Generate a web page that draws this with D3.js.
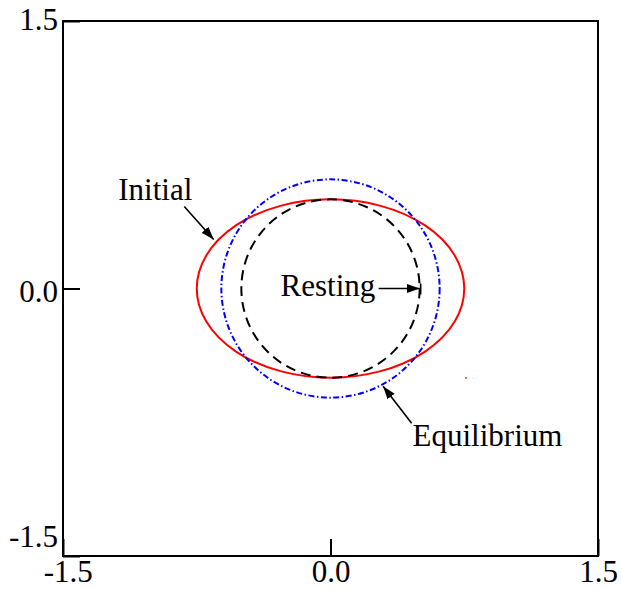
<!DOCTYPE html>
<head>
    <meta charset="utf-8">
    <script src="https://d3js.org/d3.v7.min.js"></script>
</head>

<body style="margin: 0; background: #fff;">
    <svg width="622" height="589"></svg>

    <script>
        // axis ticks (same on both axes)
        const xTicks = [-1.5, 0, 1.5]
        const yTicks = [-1.5, 0, 1.5]

        // shapes: semi-axes in data units
        const shapeNames = ["Initial", "Equilibrium", "Resting"]
        const semiX = [0.75, 0.612, 0.5]
        const semiY = [0.5, 0.612, 0.5]

        // small stray red mark seen in the figure
        const strayPts = [[0.76, -0.502]]

        // annotations: label, label anchor (data units), arrow from -> to
        const annLabels = ["Initial", "Resting", "Equilibrium"]
        const annText = [[-1.19, 0.495], [-0.28, -0.04], [0.46, -0.885]]
        const annFrom = [[-0.82, 0.46], [0.27, 0.0], [0.455, -0.755]]
        const annTo = [[-0.655, 0.275], [0.5, 0.0], [0.295, -0.548]]

        const FONT = "Liberation Serif"
        const FSIZE = 31

        const svg = d3.select("svg")
        const x = d3.scaleLinear().domain([-1.5, 1.5]).range([63, 598])
        const y = d3.scaleLinear().domain([-1.5, 1.5]).range([556, 21])
        const fmt = d => d3.format(".1f")(d).replace("\u2212", "-")

        const styles = {
            Initial: { stroke: "#f00", dash: null },
            Equilibrium: { stroke: "#00f", dash: "6,2.5,1.5,2.5" },
            Resting: { stroke: "#000", dash: "10,6" }
        }

        svg.append("defs").append("marker")
            .attr("id", "head")
            .attr("markerUnits", "userSpaceOnUse")
            .attr("viewBox", "0 -5 13 10")
            .attr("refX", 13).attr("refY", 0)
            .attr("markerWidth", 13).attr("markerHeight", 10)
            .attr("orient", "auto")
            .append("path")
            .attr("d", "M0,-4.5L13,0L0,4.5Z")
            .attr("fill", "#000")

        // curves, drawn red, blue, then black dashes on top
        const order = ["Initial", "Equilibrium", "Resting"]
        order.forEach(name => {
            const i = shapeNames.indexOf(name)
            svg.append("ellipse")
                .attr("cx", x(0)).attr("cy", y(0))
                .attr("rx", x(semiX[i]) - x(0))
                .attr("ry", y(0) - y(semiY[i]))
                .attr("fill", "none")
                .attr("stroke", styles[name].stroke)
                .attr("stroke-width", 2)
                .attr("stroke-dasharray", styles[name].dash)
        })

        svg.selectAll("rect.stray")
            .data(strayPts)
            .enter()
            .append("rect")
            .attr("class", "stray")
            .attr("x", d => x(d[0]) - 0.75)
            .attr("y", d => y(d[1]) - 0.75)
            .attr("width", 1.5).attr("height", 1.5)
            .attr("fill", "#f00")

        // axes with inward ticks
        const gx = svg.append("g")
            .attr("transform", `translate(0,${y(-1.5)})`)
            .call(d3.axisBottom(x).tickValues(xTicks).tickSizeInner(-17).tickSizeOuter(0)
                .tickPadding(4).tickFormat(fmt))
        const gy = svg.append("g")
            .attr("transform", `translate(${x(-1.5)},0)`)
            .call(d3.axisLeft(y).tickValues(yTicks).tickSizeInner(-17).tickSizeOuter(0)
                .tickPadding(5).tickFormat(fmt))

        for (const g of [gx, gy]) {
            g.selectAll("path.domain").remove()
            g.selectAll("line").attr("stroke", "#000").attr("stroke-width", 2)
            g.attr("font-size", FSIZE).attr("font-family", FONT)
            g.selectAll("text").attr("fill", "#000")
        }
        gx.selectAll("text").filter(d => d === -1.5).attr("dx", "0.15em")
        gy.selectAll("text")
            .attr("dy", d => d === -1.5 ? "-0.3em" : d === 0 ? "0.43em" : "0.26em")

        // frame
        svg.append("rect")
            .attr("x", x(-1.5)).attr("y", y(1.5))
            .attr("width", x(1.5) - x(-1.5))
            .attr("height", y(-1.5) - y(1.5))
            .attr("fill", "none")
            .attr("stroke", "#000")
            .attr("stroke-width", 2)

        // annotations
        annLabels.forEach((lab, i) => {
            svg.append("text")
                .attr("x", x(annText[i][0]))
                .attr("y", y(annText[i][1]))
                .attr("font-family", FONT)
                .attr("font-size", FSIZE)
                .attr("fill", "#000")
                .text(lab)
            svg.append("line")
                .attr("x1", x(annFrom[i][0])).attr("y1", y(annFrom[i][1]))
                .attr("x2", x(annTo[i][0])).attr("y2", y(annTo[i][1]))
                .attr("stroke", "#000")
                .attr("stroke-width", 1.6)
                .attr("marker-end", "url(#head)")
        })

        // bar at the end of the radius arrow
        svg.append("line")
            .attr("x1", x(0.5) + 1).attr("x2", x(0.5) + 1)
            .attr("y1", y(0) - 5).attr("y2", y(0) + 6)
            .attr("stroke", "#000")
            .attr("stroke-width", 1.6)
    </script>
</body>
